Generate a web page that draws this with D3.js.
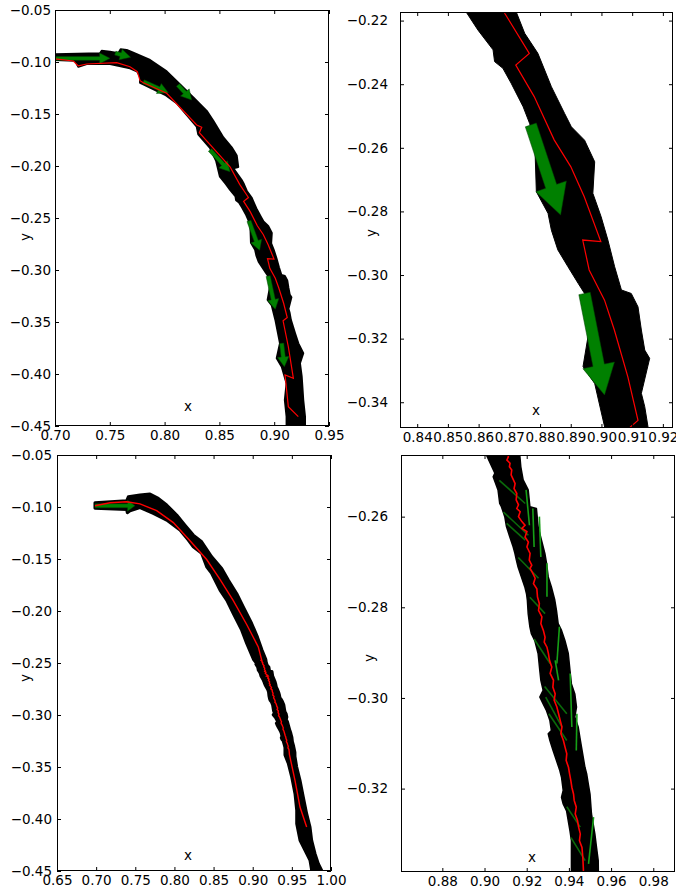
<!DOCTYPE html>
<html><head><meta charset="utf-8">
<script src="https://cdn.jsdelivr.net/npm/d3@7"></script>
<style>body{margin:0;background:#fff} svg{display:block}</style>
</head><body>
<svg id="chart" width="676" height="888"></svg>
<script>
// ---------- tick values ----------
const xTicksTL = [0.70,0.75,0.80,0.85,0.90,0.95];
const yTicksTL = [-0.05,-0.10,-0.15,-0.20,-0.25,-0.30,-0.35,-0.40,-0.45];
const xTicksTR = [0.84,0.85,0.86,0.87,0.88,0.89,0.90,0.91,0.92];
const yTicksTR = [-0.22,-0.24,-0.26,-0.28,-0.30,-0.32,-0.34];
const xTicksBL = [0.65,0.70,0.75,0.80,0.85,0.90,0.95,1.00];
const yTicksBL = [-0.05,-0.10,-0.15,-0.20,-0.25,-0.30,-0.35,-0.40,-0.45];
const xTicksBR = [0.88,0.90,0.92,0.94,0.96,0.98];
const yTicksBR = [-0.26,-0.28,-0.30,-0.32];

// ---------- run A (top row): envelope of the black arrows ----------
const bandUpperA = [[0.7000,-0.0926],[0.7411,-0.0916],[0.7426,-0.0891],[0.7502,-0.0901],[0.7578,-0.0916],[0.7599,-0.0878],[0.7654,-0.0885],[0.7714,-0.0911],[0.7867,-0.0981],[0.8019,-0.1090],[0.8141,-0.1215],[0.8262,-0.1340],[0.8384,-0.1470],[0.8444,-0.1565],[0.8536,-0.1725],[0.8612,-0.1820],[0.8658,-0.1900],[0.8672,-0.2010],[0.8627,-0.2022],[0.8703,-0.2135],[0.8723,-0.2174],[0.8750,-0.2240],[0.8793,-0.2303],[0.8837,-0.2408],[0.8880,-0.2492],[0.8902,-0.2534],[0.8945,-0.2576],[0.8978,-0.2644],[0.8972,-0.2743],[0.8999,-0.2817],[0.9021,-0.2890],[0.9043,-0.2974],[0.9065,-0.3047],[0.9097,-0.3058],[0.9119,-0.3100],[0.9130,-0.3173],[0.9141,-0.3236],[0.9157,-0.3262],[0.9130,-0.3372],[0.9141,-0.3414],[0.9152,-0.3480],[0.9190,-0.3609],[0.9220,-0.3705],[0.9265,-0.3801],[0.9235,-0.3897],[0.9251,-0.4026],[0.9265,-0.4250],[0.9281,-0.4410],[0.9281,-0.4560]];
const bandLowerA = [[0.9113,-0.4560],[0.9113,-0.4410],[0.9097,-0.4250],[0.9113,-0.4090],[0.9069,-0.3930],[0.9023,-0.3849],[0.9053,-0.3705],[0.9023,-0.3545],[0.9011,-0.3480],[0.8978,-0.3341],[0.8940,-0.3288],[0.8967,-0.3131],[0.8945,-0.3058],[0.8924,-0.3026],[0.8891,-0.2974],[0.8858,-0.2921],[0.8837,-0.2859],[0.8826,-0.2806],[0.8788,-0.2738],[0.8783,-0.2586],[0.8766,-0.2523],[0.8745,-0.2471],[0.8706,-0.2397],[0.8679,-0.2350],[0.8652,-0.2329],[0.8647,-0.2292],[0.8598,-0.2230],[0.8560,-0.2174],[0.8505,-0.2103],[0.8470,-0.1950],[0.8414,-0.1825],[0.8307,-0.1695],[0.8293,-0.1620],[0.8110,-0.1395],[0.8004,-0.1315],[0.7867,-0.1245],[0.7806,-0.1215],[0.7776,-0.1200],[0.7776,-0.1140],[0.7751,-0.1093],[0.7684,-0.1061],[0.7502,-0.1019],[0.7289,-0.1019],[0.7213,-0.1045],[0.7182,-0.0988],[0.7000,-0.0981]];
// green arrows: tail x, tail y, tip x, tip y
const arrowsA = [[0.7000,-0.0965,0.7502,-0.0965],[0.7550,-0.0915,0.7690,-0.0955],[0.7806,-0.1189,0.8034,-0.1295],[0.8122,-0.1221,0.8247,-0.1365],[0.8414,-0.1846,0.8597,-0.2055],[0.8770,-0.2528,0.8867,-0.2811],[0.8945,-0.3058,0.9010,-0.3377],[0.9068,-0.3705,0.9093,-0.3930]];
// red trajectory
const redA = [[0.7000,-0.0970],[0.7167,-0.0990],[0.7213,-0.1038],[0.7289,-0.1019],[0.7563,-0.1007],[0.7684,-0.1045],[0.7751,-0.1093],[0.7776,-0.1180],[0.7806,-0.1199],[0.8019,-0.1301],[0.8293,-0.1606],[0.8339,-0.1628],[0.8317,-0.1680],[0.8597,-0.2007],[0.8685,-0.2177],[0.8765,-0.2303],[0.8721,-0.2340],[0.8781,-0.2439],[0.8846,-0.2575],[0.8900,-0.2659],[0.8944,-0.2754],[0.8998,-0.2895],[0.8939,-0.2890],[0.8960,-0.2984],[0.9010,-0.3079],[0.9042,-0.3173],[0.9086,-0.3320],[0.9119,-0.3457],[0.9081,-0.3489],[0.9129,-0.3738],[0.9175,-0.4042],[0.9099,-0.4010],[0.9129,-0.4314],[0.9220,-0.4410]];

// ---------- run B (bottom row) ----------
const bandUpperB = [[0.6985,-0.0959],[0.7390,-0.0940],[0.7411,-0.0901],[0.7560,-0.0885],[0.7688,-0.0875],[0.7794,-0.0917],[0.7901,-0.0981],[0.8029,-0.1077],[0.8135,-0.1174],[0.8241,-0.1270],[0.8348,-0.1334],[0.8476,-0.1479],[0.8604,-0.1591],[0.8688,-0.1703],[0.8795,-0.1831],[0.8880,-0.1960],[0.8987,-0.2120],[0.9060,-0.2249],[0.9120,-0.2377],[0.9167,-0.2464],[0.9172,-0.2490],[0.9183,-0.2519],[0.9207,-0.2541],[0.9215,-0.2578],[0.9246,-0.2582],[0.9254,-0.2622],[0.9270,-0.2652],[0.9286,-0.2681],[0.9294,-0.2703],[0.9302,-0.2733],[0.9317,-0.2755],[0.9333,-0.2784],[0.9341,-0.2807],[0.9349,-0.2836],[0.9365,-0.2851],[0.9381,-0.2873],[0.9397,-0.2902],[0.9405,-0.2939],[0.9412,-0.2969],[0.9428,-0.2991],[0.9436,-0.3020],[0.9428,-0.3042],[0.9444,-0.3064],[0.9452,-0.3087],[0.9460,-0.3109],[0.9468,-0.3131],[0.9476,-0.3153],[0.9484,-0.3167],[0.9492,-0.3190],[0.9500,-0.3212],[0.9507,-0.3256],[0.9515,-0.3278],[0.9523,-0.3300],[0.9531,-0.3330],[0.9539,-0.3359],[0.9540,-0.3400],[0.9562,-0.3500],[0.9604,-0.3628],[0.9646,-0.3789],[0.9689,-0.3949],[0.9732,-0.4078],[0.9753,-0.4205],[0.9796,-0.4334],[0.9838,-0.4430],[0.9881,-0.4494],[0.9881,-0.4560]];
const bandLowerB = [[0.9753,-0.4560],[0.9753,-0.4494],[0.9732,-0.4398],[0.9668,-0.4302],[0.9604,-0.4205],[0.9562,-0.4045],[0.9562,-0.3917],[0.9540,-0.3756],[0.9498,-0.3596],[0.9455,-0.3467],[0.9412,-0.3385],[0.9412,-0.3344],[0.9412,-0.3315],[0.9405,-0.3293],[0.9397,-0.3271],[0.9389,-0.3249],[0.9373,-0.3234],[0.9365,-0.3219],[0.9373,-0.3204],[0.9365,-0.3175],[0.9357,-0.3160],[0.9341,-0.3138],[0.9325,-0.3116],[0.9310,-0.3094],[0.9302,-0.3079],[0.9317,-0.3072],[0.9310,-0.3050],[0.9294,-0.3028],[0.9278,-0.3013],[0.9262,-0.2998],[0.9278,-0.2983],[0.9267,-0.2961],[0.9262,-0.2939],[0.9254,-0.2902],[0.9238,-0.2873],[0.9222,-0.2858],[0.9215,-0.2843],[0.9207,-0.2814],[0.9203,-0.2784],[0.9199,-0.2770],[0.9191,-0.2755],[0.9175,-0.2733],[0.9159,-0.2711],[0.9151,-0.2696],[0.9144,-0.2681],[0.9136,-0.2667],[0.9120,-0.2645],[0.9104,-0.2622],[0.9096,-0.2600],[0.9080,-0.2578],[0.9072,-0.2571],[0.9064,-0.2541],[0.9041,-0.2512],[0.9049,-0.2504],[0.9009,-0.2464],[0.8923,-0.2312],[0.8859,-0.2184],[0.8752,-0.2024],[0.8668,-0.1896],[0.8582,-0.1799],[0.8476,-0.1639],[0.8412,-0.1575],[0.8348,-0.1446],[0.8241,-0.1383],[0.8177,-0.1318],[0.8071,-0.1222],[0.7901,-0.1126],[0.7730,-0.1061],[0.7560,-0.1005],[0.7432,-0.1036],[0.7398,-0.1055],[0.7390,-0.1023],[0.6985,-0.1013]];
const arrowsB = [[0.6985,-0.0988,0.7496,-0.0988]];
// thin green arrow shafts seen inside the band (zoomed view): x1, y1, x2, y2
const streaksB = [[0.9070,-0.2520,0.9193,-0.2571],[0.9090,-0.2590,0.9208,-0.2641],[0.9105,-0.2615,0.9193,-0.2652],[0.9160,-0.2690,0.9256,-0.2736],[0.9215,-0.2778,0.9287,-0.2814],[0.9235,-0.2870,0.9311,-0.2924],[0.9197,-0.2541,0.9213,-0.2619],[0.9229,-0.2582,0.9235,-0.2667],[0.9260,-0.2600,0.9267,-0.2689],[0.9296,-0.2703,0.9296,-0.2777],[0.9355,-0.2843,0.9343,-0.2924],[0.9285,-0.2975,0.9390,-0.3035],[0.9290,-0.2998,0.9367,-0.3064],[0.9305,-0.3035,0.9390,-0.3094],[0.9390,-0.3240,0.9454,-0.3285],[0.9410,-0.3308,0.9477,-0.3359],[0.9335,-0.2917,0.9351,-0.2961],[0.9406,-0.2946,0.9414,-0.3064],[0.9438,-0.3035,0.9435,-0.3116],[0.9517,-0.3263,0.9493,-0.3366]];
const redB = [[0.6985,-0.0988],[0.7177,-0.0959],[0.7390,-0.0949],[0.7560,-0.0970],[0.7773,-0.1035],[0.7986,-0.1150],[0.8199,-0.1325],[0.8412,-0.1505],[0.8582,-0.1695],[0.8752,-0.1900],[0.8923,-0.2130],[0.9071,-0.2345],
[0.9113,-0.2468],[0.9106,-0.2475],[0.9121,-0.2482],[0.9118,-0.2490],[0.9129,-0.2497],[0.9126,-0.2508],[0.9137,-0.2519],[0.9145,-0.2527],[0.9140,-0.2538],[0.9153,-0.2549],[0.9150,-0.2563],[0.9161,-0.2574],[0.9153,-0.2582],[0.9169,-0.2589],[0.9161,-0.2600],[0.9177,-0.2611],[0.9192,-0.2619],[0.9177,-0.2626],[0.9201,-0.2633],[0.9192,-0.2645],[0.9208,-0.2656],[0.9201,-0.2667],[0.9216,-0.2681],[0.9212,-0.2696],[0.9224,-0.2707],[0.9216,-0.2714],[0.9229,-0.2725],[0.9240,-0.2736],[0.9232,-0.2748],[0.9248,-0.2759],[0.9251,-0.2777],[0.9260,-0.2792],[0.9256,-0.2807],[0.9272,-0.2821],[0.9267,-0.2836],[0.9279,-0.2851],[0.9287,-0.2866],[0.9283,-0.2877],[0.9296,-0.2888],[0.9303,-0.2902],[0.9308,-0.2917],[0.9319,-0.2932],[0.9311,-0.2946],[0.9327,-0.2961],[0.9324,-0.2976],[0.9335,-0.2991],[0.9330,-0.3005],[0.9343,-0.3020],[0.9351,-0.3035],[0.9359,-0.3050],[0.9367,-0.3064],[0.9362,-0.3079],[0.9374,-0.3094],[0.9382,-0.3109],[0.9390,-0.3123],[0.9387,-0.3138],[0.9398,-0.3153],[0.9403,-0.3167],[0.9409,-0.3182],[0.9414,-0.3197],[0.9422,-0.3212],[0.9425,-0.3226],[0.9435,-0.3241],[0.9430,-0.3256],[0.9441,-0.3271],[0.9446,-0.3285],[0.9454,-0.3300],[0.9450,-0.3315],[0.9462,-0.3330],[0.9466,-0.3352],[0.9469,-0.3381],
[0.9540,-0.3628],[0.9604,-0.3885],[0.9689,-0.4077]];

// ---------- drawing ----------
const svg = d3.select("#chart");
const FONT = "DejaVu Sans";
const FS = 13.5;
const fmt = d3.format(".2f");

function arrowPoly(a, w, hw, hl) {
  const [x0, y0, x1, y1] = a;
  const dx = x1 - x0, dy = y1 - y0, L = Math.hypot(dx, dy);
  const ux = dx / L, uy = dy / L, nx = -uy, ny = ux;
  const bx = x1 - ux * hl, by = y1 - uy * hl;
  return [
    [x0 + nx * w / 2, y0 + ny * w / 2],
    [bx + nx * w / 2, by + ny * w / 2],
    [bx + nx * hw / 2, by + ny * hw / 2],
    [x1, y1],
    [bx - nx * hw / 2, by - ny * hw / 2],
    [bx - nx * w / 2, by - ny * w / 2],
    [x0 - nx * w / 2, y0 - ny * w / 2]
  ];
}

function drawPanel(p, idx) {
  const x = d3.scaleLinear().domain(p.xDomain).range([p.left, p.right]);
  const y = d3.scaleLinear().domain(p.yDomain).range([p.bottom, p.top]);
  const line = d3.line().x(d => x(d[0])).y(d => y(d[1]));
  const g = svg.append("g");
  const cid = "clip" + idx;
  g.append("clipPath").attr("id", cid).append("rect")
    .attr("x", p.left).attr("y", p.top)
    .attr("width", p.right - p.left).attr("height", p.bottom - p.top);
  const plot = g.append("g").attr("clip-path", `url(#${cid})`);

  plot.append("path")
    .attr("d", line(p.upper.concat(p.lower)) + "Z")
    .attr("fill", "#000").attr("stroke", "#000")
    .attr("stroke-width", p.bandStroke).attr("stroke-linejoin", "round");

  if (p.streaks) {
    plot.selectAll(".streak").data(p.streaks).enter().append("line")
      .attr("x1", d => x(d[0])).attr("y1", d => y(d[1]))
      .attr("x2", d => x(d[2])).attr("y2", d => y(d[3]))
      .attr("stroke", d => Math.abs(d[2] - d[0]) > 0.004 ? "#0a6a0a" : "#16a016")
      .attr("stroke-width", 1.6);
  }

  plot.selectAll(".arrow").data(p.arrows).enter().append("path")
    .attr("d", d => line(arrowPoly(d, 0.0038, 0.0105, 0.0095)) + "Z")
    .attr("fill", "#008000").attr("stroke", "#004000").attr("stroke-width", 0.5);

  plot.append("path").attr("d", line(p.red))
    .attr("fill", "none").attr("stroke", "#ff0000").attr("stroke-width", p.redWidth)
    .attr("stroke-linejoin", "miter");

  // axes
  const styleAxis = sel => {
    sel.attr("font-family", FONT).attr("font-size", FS);
    sel.selectAll("text").attr("fill", "#000");
    sel.selectAll("line").attr("stroke", "#000");
    sel.select(".domain").remove();
  };
  g.append("g").attr("transform", `translate(0,${p.bottom})`)
    .call(d3.axisBottom(x).tickValues(p.xTicks).tickFormat(fmt).tickSize(-4).tickPadding(4.5))
    .call(styleAxis);
  g.append("g").attr("transform", `translate(0,${p.top})`)
    .call(d3.axisTop(x).tickValues(p.xTicks).tickFormat("").tickSize(-4))
    .call(styleAxis);
  g.append("g").attr("transform", `translate(${p.left},0)`)
    .call(d3.axisLeft(y).tickValues(p.yTicks).tickFormat(fmt).tickSize(-4).tickPadding(p.yPad))
    .call(styleAxis);
  g.append("g").attr("transform", `translate(${p.right},0)`)
    .call(d3.axisRight(y).tickValues(p.yTicks).tickFormat("").tickSize(-4))
    .call(styleAxis);

  g.append("rect").attr("x", p.left + 0.5).attr("y", p.top + 0.5)
    .attr("width", p.right - p.left - 1).attr("height", p.bottom - p.top - 1)
    .attr("fill", "none").attr("stroke", "#000").attr("stroke-width", 1);

  g.append("text").attr("x", p.xl[0]).attr("y", p.xl[1])
    .attr("text-anchor", "middle").attr("dy", "0.35em")
    .attr("font-family", FONT).attr("font-size", FS).text("x");
  g.append("text").attr("transform", `translate(${p.yl[0]},${p.yl[1]}) rotate(-90)`)
    .attr("text-anchor", "middle").attr("dy", "0.35em")
    .attr("font-family", FONT).attr("font-size", FS).text("y");
}

const panels = [
  {left:55, right:329, top:10, bottom:426, xDomain:[0.70,0.95], yDomain:[-0.45,-0.05],
   xTicks:xTicksTL, yTicks:yTicksTL, yPad:4, upper:bandUpperA, lower:bandLowerA,
   arrows:arrowsA, red:redA, bandStroke:2, redWidth:1.2, xl:[188,406], yl:[25,237]},
  {left:400, right:673, top:12, bottom:428, xDomain:[0.8344,0.9233], yDomain:[-0.3481,-0.2173],
   xTicks:xTicksTR, yTicks:yTicksTR, yPad:12, upper:bandUpperA, lower:bandLowerA,
   arrows:arrowsA, red:redA, bandStroke:1, redWidth:1.2, xl:[536,410], yl:[371,233]},
  {left:57, right:331, top:455, bottom:871, xDomain:[0.65,1.00], yDomain:[-0.45,-0.05],
   xTicks:xTicksBL, yTicks:yTicksBL, yPad:5, upper:bandUpperB, lower:bandLowerB,
   arrows:arrowsB, red:redB, bandStroke:3, redWidth:1.4, xl:[188,855], yl:[25,678]},
  {left:401, right:675, top:455, bottom:872, xDomain:[0.8604,0.9903], yDomain:[-0.3384,-0.2464],
   xTicks:xTicksBR, yTicks:yTicksBR, yPad:13, upper:bandUpperB, lower:bandLowerB,
   arrows:arrowsB, streaks:streaksB, red:redB, bandStroke:1.5, redWidth:1.6, xl:[532,857], yl:[369,658]}
];
panels.forEach(drawPanel);
</script>
</body></html>
